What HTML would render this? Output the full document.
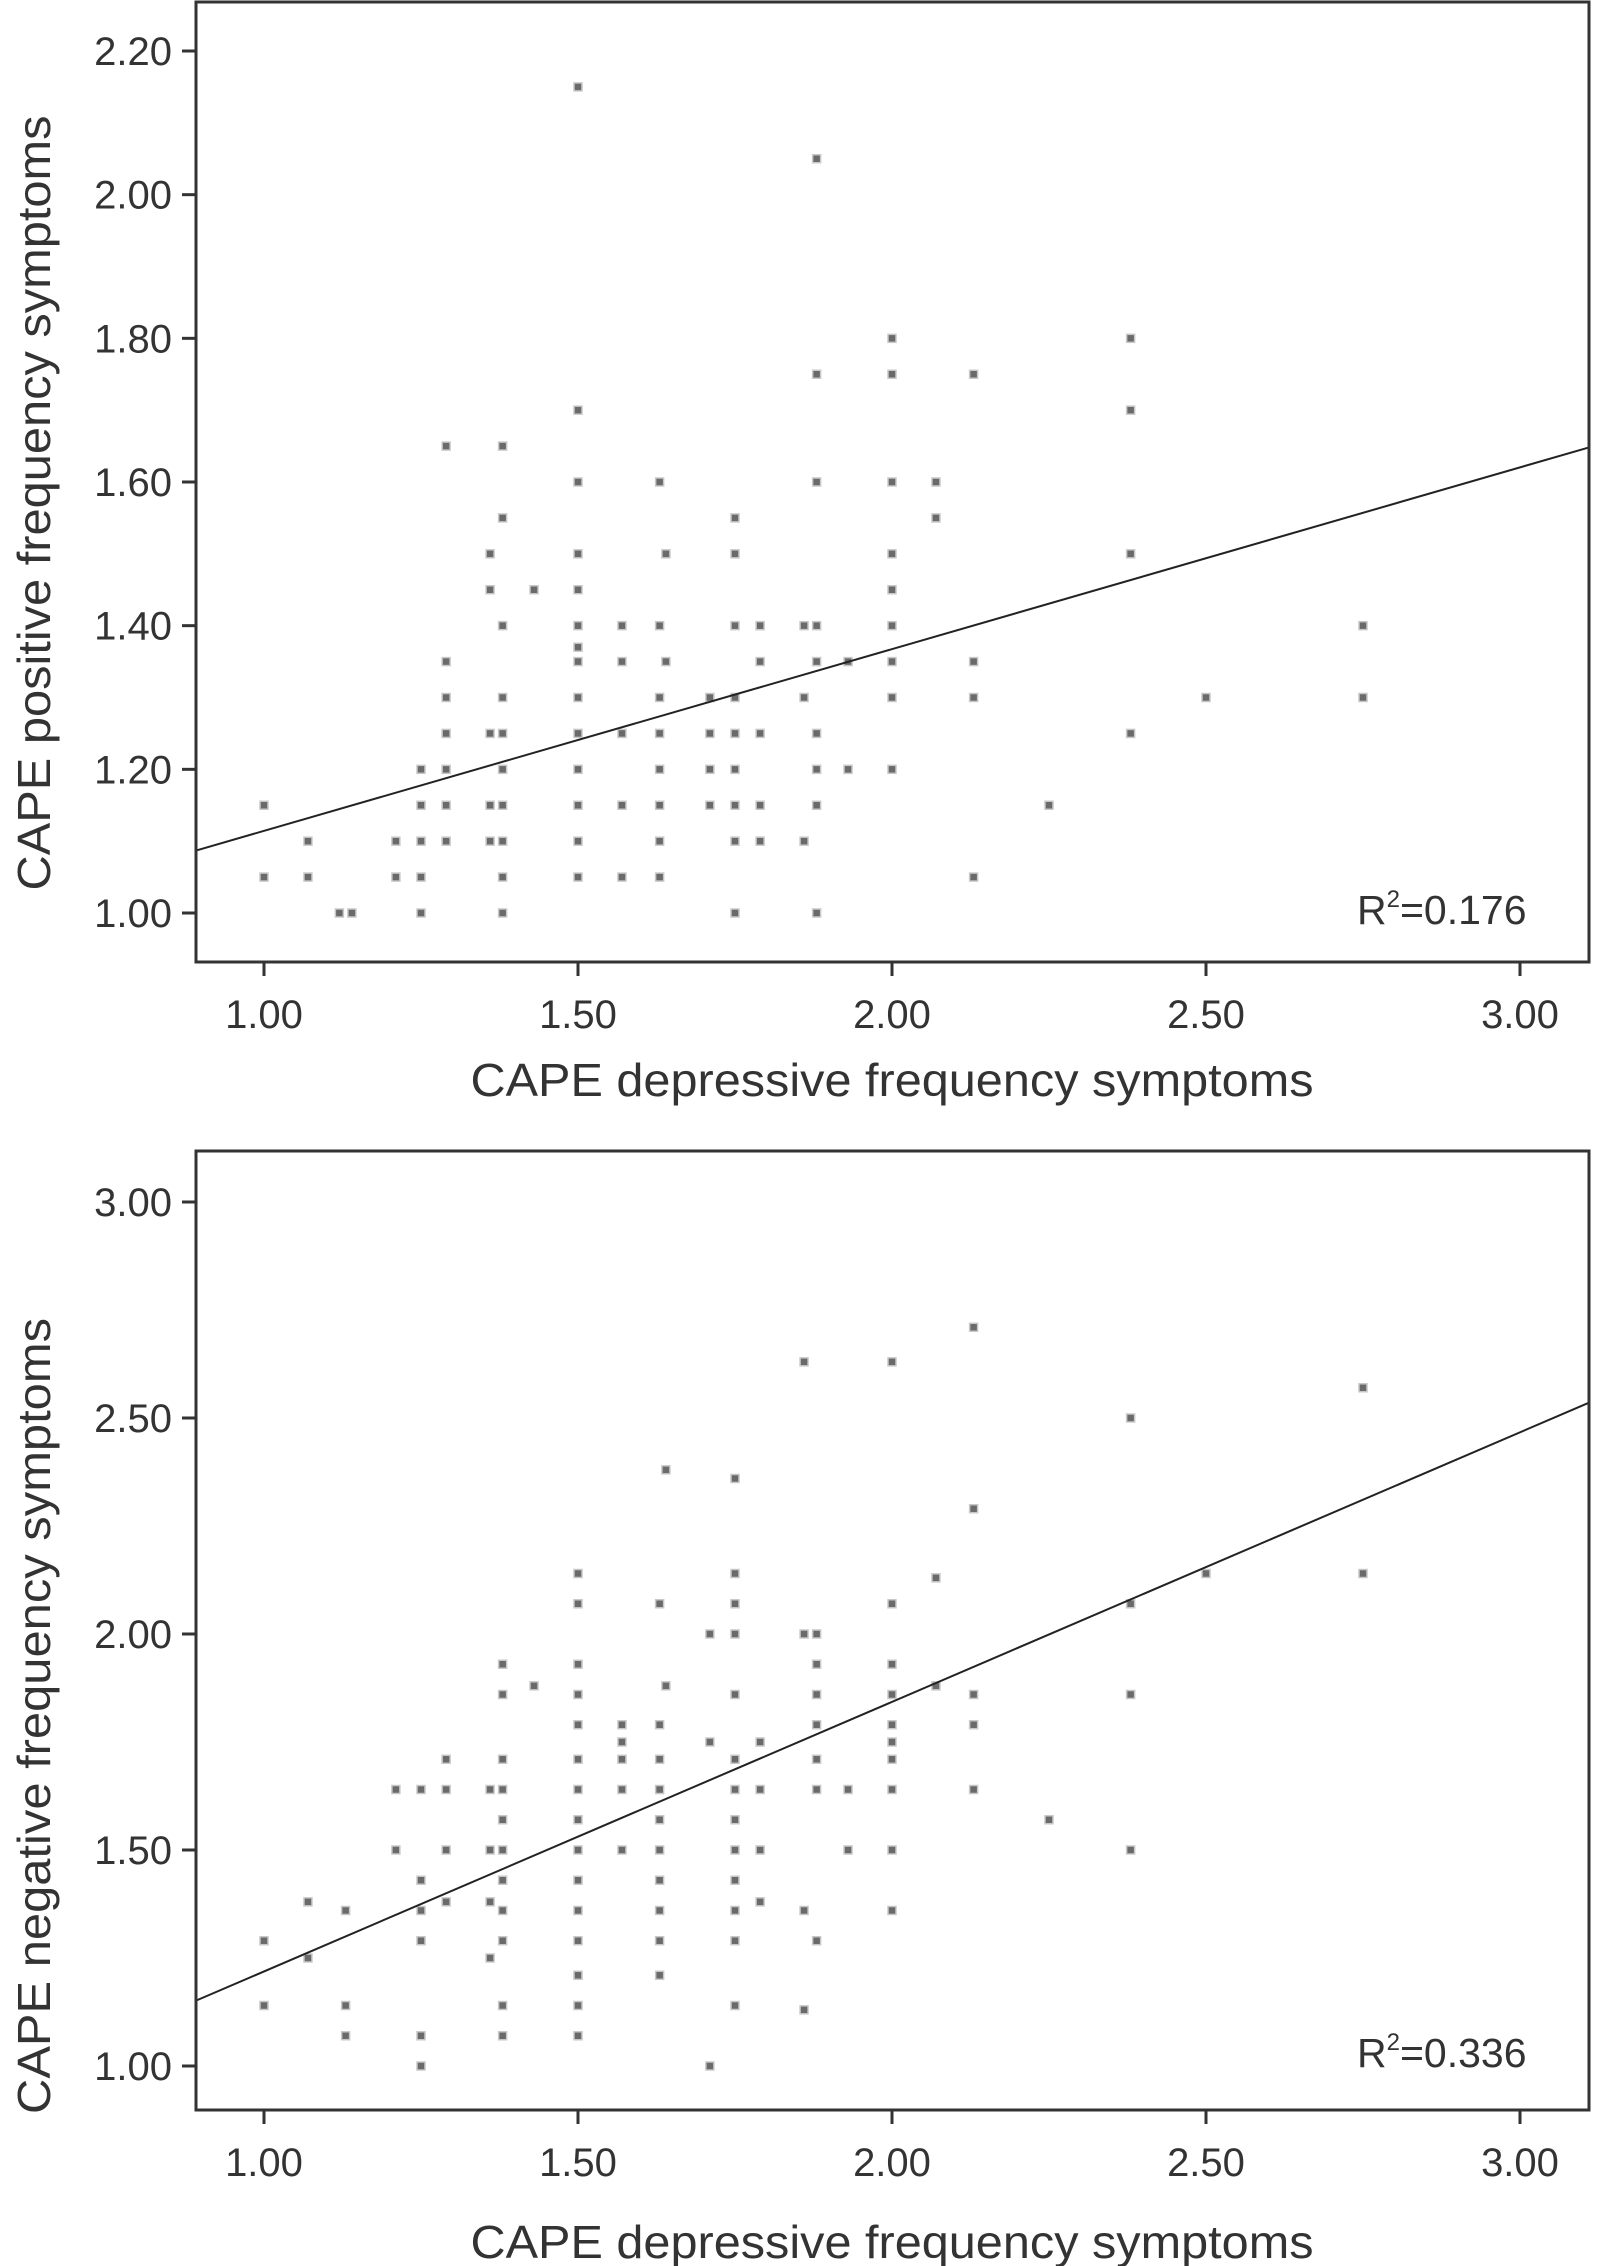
<!DOCTYPE html>
<html><head><meta charset="utf-8">
<style>
html,body{margin:0;padding:0;background:#fff;}
svg{display:block;font-family:"Liberation Sans",Arial,sans-serif;}
</style></head>
<body>
<svg id="chart" width="1597" height="2266" viewBox="0 0 1597 2266" xmlns="http://www.w3.org/2000/svg"></svg>
<script>
const xTicks = [1.00, 1.50, 2.00, 2.50, 3.00];
const topYTicks = [1.00, 1.20, 1.40, 1.60, 1.80, 2.00, 2.20];
const botYTicks = [1.00, 1.50, 2.00, 2.50, 3.00];

const topX = [1.00,1.00,1.07,1.07,1.12,1.14,1.21,1.21,1.25,1.25,1.25,1.25,1.25,
1.29,1.29,1.29,1.29,1.29,1.29,1.29,1.36,1.36,1.36,1.36,1.36,
1.38,1.38,1.38,1.38,1.38,1.38,1.38,1.38,1.38,1.38,1.43,
1.50,1.50,1.50,1.50,1.50,1.50,1.50,1.50,1.50,1.50,1.50,1.50,1.50,1.50,
1.57,1.57,1.57,1.57,1.57,1.63,1.63,1.63,1.63,1.63,1.63,1.63,1.63,1.64,1.64,
1.71,1.71,1.71,1.71,1.75,1.75,1.75,1.75,1.75,1.75,1.75,1.75,1.75,
1.79,1.79,1.79,1.79,1.79,1.86,1.86,1.86,
1.88,1.88,1.88,1.88,1.88,1.88,1.88,1.88,1.88,1.93,1.93,
2.00,2.00,2.00,2.00,2.00,2.00,2.00,2.00,2.00,2.07,2.07,2.13,2.13,2.13,2.13,2.25,
2.38,2.38,2.38,2.38,2.50,2.75,2.75];
const topY = [1.15,1.05,1.10,1.05,1.00,1.00,1.10,1.05,1.20,1.15,1.10,1.05,1.00,
1.65,1.35,1.30,1.25,1.20,1.15,1.10,1.50,1.45,1.25,1.15,1.10,
1.65,1.55,1.40,1.30,1.25,1.20,1.15,1.10,1.05,1.00,1.45,
2.15,1.70,1.60,1.50,1.45,1.40,1.37,1.35,1.30,1.25,1.20,1.15,1.10,1.05,
1.40,1.35,1.25,1.15,1.05,1.60,1.40,1.30,1.25,1.20,1.15,1.10,1.05,1.50,1.35,
1.30,1.25,1.20,1.15,1.55,1.50,1.40,1.30,1.25,1.20,1.15,1.10,1.00,
1.40,1.35,1.25,1.15,1.10,1.40,1.30,1.10,
2.05,1.75,1.60,1.40,1.35,1.25,1.20,1.15,1.00,1.35,1.20,
1.80,1.75,1.60,1.50,1.45,1.40,1.35,1.30,1.20,1.60,1.55,1.75,1.35,1.30,1.05,1.15,
1.80,1.70,1.50,1.25,1.30,1.40,1.30];

const botX = [1.00,1.00,1.07,1.07,1.13,1.13,1.13,1.21,1.21,
1.25,1.25,1.25,1.25,1.25,1.25,1.29,1.29,1.29,1.29,1.36,1.36,1.36,1.36,
1.38,1.38,1.38,1.38,1.38,1.38,1.38,1.38,1.38,1.38,1.38,1.43,
1.50,1.50,1.50,1.50,1.50,1.50,1.50,1.50,1.50,1.50,1.50,1.50,1.50,1.50,1.50,
1.57,1.57,1.57,1.57,1.57,1.63,1.63,1.63,1.63,1.63,1.63,1.63,1.63,1.63,1.63,1.64,1.64,
1.71,1.71,1.71,1.75,1.75,1.75,1.75,1.75,1.75,1.75,1.75,1.75,1.75,1.75,1.75,1.75,
1.79,1.79,1.79,1.79,1.86,1.86,1.86,1.86,1.88,1.88,1.88,1.88,1.88,1.88,1.88,1.93,1.93,
2.00,2.00,2.00,2.00,2.00,2.00,2.00,2.00,2.00,2.00,2.07,2.07,
2.13,2.13,2.13,2.13,2.13,2.25,2.38,2.38,2.38,2.38,2.50,2.75,2.75];
const botY = [1.29,1.14,1.38,1.25,1.36,1.14,1.07,1.64,1.50,
1.64,1.43,1.36,1.29,1.07,1.00,1.71,1.64,1.50,1.38,1.64,1.50,1.38,1.25,
1.93,1.86,1.71,1.64,1.57,1.50,1.43,1.36,1.29,1.14,1.07,1.88,
2.14,2.07,1.93,1.86,1.79,1.71,1.64,1.57,1.50,1.43,1.36,1.29,1.21,1.14,1.07,
1.79,1.75,1.71,1.64,1.50,2.07,1.79,1.71,1.64,1.57,1.50,1.43,1.36,1.29,1.21,2.38,1.88,
2.00,1.75,1.00,2.36,2.14,2.07,2.00,1.86,1.71,1.64,1.57,1.50,1.43,1.36,1.29,1.14,
1.75,1.64,1.50,1.38,2.63,2.00,1.36,1.13,2.00,1.93,1.86,1.79,1.71,1.64,1.29,1.64,1.50,
2.63,2.07,1.93,1.86,1.79,1.75,1.71,1.64,1.50,1.36,2.13,1.88,
2.71,2.29,1.86,1.79,1.64,1.57,2.50,2.07,1.86,1.50,2.14,2.57,2.14];

const topFit = {intercept: 1.084 - 0.253*0.88, slope: 0.253, r2: "0.176"};
const botFit = {intercept: 1.144 - 0.624*0.88, slope: 0.624, r2: "0.336"};

const NS = "http://www.w3.org/2000/svg";
const svg = document.getElementById('chart');
function mk(tag, attrs, parent){
  const e = document.createElementNS(NS, tag);
  for (const k in attrs) e.setAttribute(k, attrs[k]);
  (parent||svg).appendChild(e);
  return e;
}

function drawPanel(p){
  const g = mk('g', {});
  
  
  const xs = v => p.x0 + (v - 1) * (p.x3 - p.x0) / 2;
  const ys = v => p.yA + (v - p.vA) * (p.yB - p.yA) / (p.vB - p.vA);
  const xMin = (p.left - p.x0) / ((p.x3 - p.x0) / 2) + 1;
  const xMax = (p.right - p.x0) / ((p.x3 - p.x0) / 2) + 1;

  const pg = mk('g', {}, g);
  
  
  for (let i = 0; i < p.xv.length; i++) {
    const r = mk('rect', {x: xs(p.xv[i]) - 4, y: ys(p.yv[i]) - 4, width: 8, height: 8, fill: '#6a6a6a', stroke: '#c8c8c8', 'stroke-width': 1.5}, pg);
    
    
  }
  const fl = mk('line', {x1: p.left, y1: ys(p.fit.intercept + p.fit.slope * xMin), x2: p.right, y2: ys(p.fit.intercept + p.fit.slope * xMax), stroke: '#222', 'stroke-width': 2}, g);
  
  

  const fr = mk('rect', {x: p.left, y: p.top, width: p.right - p.left, height: p.bottom - p.top, fill: 'none', stroke: '#333', 'stroke-width': 3}, g);
  
  

  xTicks.forEach(v => {
    const t = mk('line', {x1: xs(v), y1: p.bottom, x2: xs(v), y2: p.bottom + 14, stroke: '#333', 'stroke-width': 3}, g);
    
    
    const l = mk('text', {x: xs(v), y: p.bottom + 66, 'text-anchor': 'middle', 'font-size': 40, fill: '#333'}, g);
    l.textContent = v.toFixed(2);
    
    
  });
  p.yt.forEach(v => {
    const t = mk('line', {x1: p.left - 14, y1: ys(v), x2: p.left, y2: ys(v), stroke: '#333', 'stroke-width': 3}, g);
    
    
    const l = mk('text', {x: p.left - 24, y: ys(v) + 14, 'text-anchor': 'end', 'font-size': 40, fill: '#333'}, g);
    l.textContent = v.toFixed(2);
    
    
  });
  const xt = mk('text', {x: 892, y: p.xTitleY, 'text-anchor': 'middle', 'font-size': 46, fill: '#333', textLength: 843, lengthAdjust: 'spacingAndGlyphs'}, g);
  xt.textContent = 'CAPE depressive frequency symptoms';
  
  
  const yt = mk('text', {x: 0, y: 0, 'text-anchor': 'middle', 'font-size': 46, fill: '#333', textLength: p.yTitleLen, lengthAdjust: 'spacingAndGlyphs', transform: 'translate(50,' + p.yTitleC + ') rotate(-90)'}, g);
  yt.textContent = p.yTitle;
  
  
  const rt = mk('text', {x: 1357, y: p.r2y, 'font-size': 41, fill: '#333'}, g);
  
  
  const t1 = mk('tspan', {}, rt); t1.textContent = 'R';
  const t2 = mk('tspan', {'font-size': 24, dy: -17}, rt); t2.textContent = '2';
  const t3 = mk('tspan', {dy: 17}, rt); t3.textContent = '=' + p.fit.r2;
}

drawPanel({name: 'top-scatter-panel', left: 196, right: 1589, top: 2, bottom: 962,
  x0: 264, x3: 1520, vA: 1.00, yA: 913, vB: 2.20, yB: 51,
  xv: topX, yv: topY, yt: topYTicks, fit: topFit, xTitleY: 1096,
  yTitle: 'CAPE positive frequency symptoms', yTitleC: 503, yTitleLen: 775, r2y: 924});
drawPanel({name: 'bottom-scatter-panel', left: 196, right: 1589, top: 1151, bottom: 2110,
  x0: 264, x3: 1520, vA: 1.00, yA: 2066, vB: 3.00, yB: 1202,
  xv: botX, yv: botY, yt: botYTicks, fit: botFit, xTitleY: 2258,
  yTitle: 'CAPE negative frequency symptoms', yTitleC: 1716, yTitleLen: 796, r2y: 2067});
</script>
</body></html>
